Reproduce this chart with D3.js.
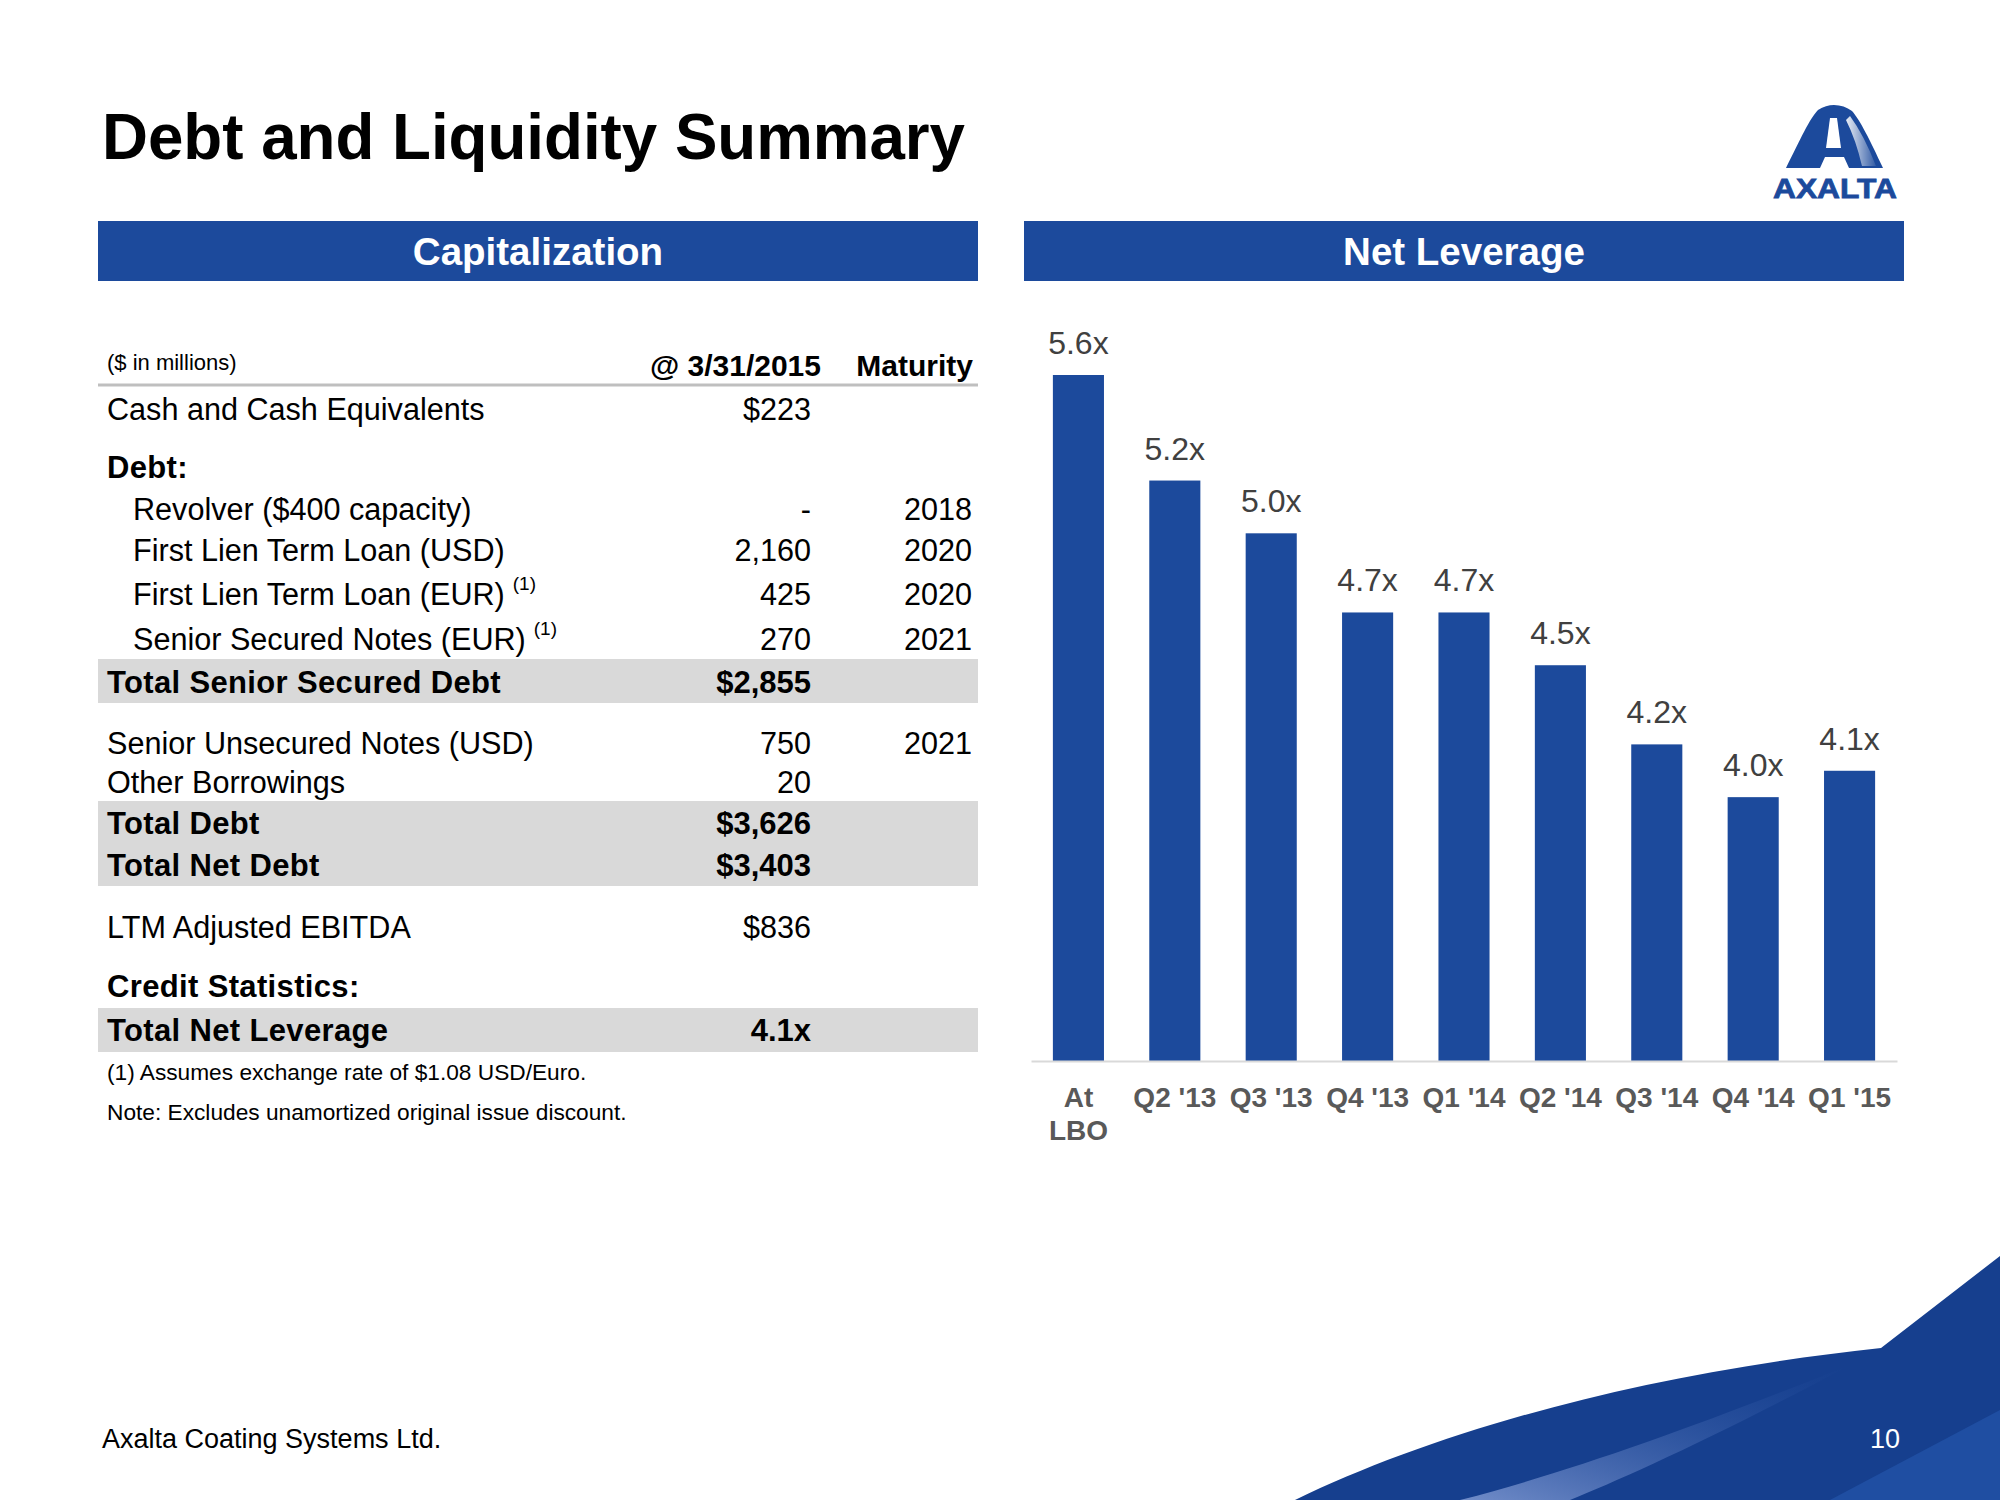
<!DOCTYPE html>
<html><head><meta charset="utf-8">
<script src="https://cdn.jsdelivr.net/npm/d3@7"></script>
<style>
body{margin:0;background:#fff}
svg{display:block}
text{font-family:"Liberation Sans",Arial,Helvetica,sans-serif}
</style>
</head><body>
<svg id="c" width="2000" height="1500"></svg>
<script>
// ---------- DATA ----------
const tickLabels = [["At","LBO"],["Q2 '13"],["Q3 '13"],["Q4 '13"],["Q1 '14"],["Q2 '14"],["Q3 '14"],["Q4 '14"],["Q1 '15"]];
const categories = tickLabels.map(l => l.join(" "));
const leverage = [5.6, 5.2, 5.0, 4.7, 4.7, 4.5, 4.2, 4.0, 4.1];

const rowLabels = ["Cash and Cash Equivalents","Debt:","Revolver ($400 capacity)","First Lien Term Loan (USD)",
  "First Lien Term Loan (EUR)","Senior Secured Notes (EUR)","Total Senior Secured Debt","Senior Unsecured Notes (USD)",
  "Other Borrowings","Total Debt","Total Net Debt","LTM Adjusted EBITDA","Credit Statistics:","Total Net Leverage"];
const rowValues = ["$223","","-","2,160","425","270","$2,855","750","20","$3,626","$3,403","$836","","4.1x"];
const rowMaturity = ["","","2018","2020","2020","2021","","2021","","","","","",""];
const rowKinds = ["plain","bold","indent","indent","indent","indent","total","plain","plain","total","total","plain","bold","total"];
const rowNotes = ["","","","","(1)","(1)","","","","","","","",""];
const columnHeads = ["@ 3/31/2015","Maturity"];
const footnotes = ["(1) Assumes exchange rate of $1.08 USD/Euro.","Note:  Excludes unamortized original issue discount."];

// ---------- DRAW ----------
const blue = "#1c4a9c";
const svg = d3.select("#c");

// Title
svg.append("text").attr("x",102).attr("y",159).attr("font-size",64).attr("font-weight","bold")
  .attr("fill","#000").attr("textLength",863).attr("lengthAdjust","spacingAndGlyphs").text("Debt and Liquidity Summary");

// Logo
const defs = svg.append("defs");
const logo = svg.append("g");
const grad = defs.append("linearGradient").attr("id","hl").attr("x1","0").attr("y1","0").attr("x2","1").attr("y2","0");
grad.append("stop").attr("offset","0").attr("stop-color","#ffffff").attr("stop-opacity",0.9);
grad.append("stop").attr("offset","1").attr("stop-color","#ffffff").attr("stop-opacity",0.1);
logo.append("path").attr("d","M1786,168 C1800,140 1810,118 1818,110 Q1826,105 1834,105 Q1844,105 1852,111 C1860,120 1870,140 1883,168 Z").attr("fill",blue);
logo.append("path").attr("d","M1850,116 Q1864,135 1876,166 L1862,166 Q1856,140 1846,120 Z").attr("fill","url(#hl)");
logo.append("path").attr("d","M1830,118 L1837,118 L1841,148 L1826,148 Z").attr("fill","#fff");
logo.append("path").attr("d","M1825,157 L1844,157 L1849,168 L1820,168 Z").attr("fill","#fff");
logo.append("text").attr("x",1835).attr("y",198).attr("text-anchor","middle").attr("font-size",28)
  .attr("font-weight","bold").attr("fill",blue).attr("textLength",124).attr("lengthAdjust","spacingAndGlyphs")
  .attr("stroke",blue).attr("stroke-width",0.8).text("AXALTA");

// Section headers
[[98,"Capitalization"],[1024,"Net Leverage"]].forEach(([x0,t]) => {
  svg.append("rect").attr("x",x0).attr("y",221).attr("width",880).attr("height",60).attr("fill",blue);
  svg.append("text").attr("x",x0+440).attr("y",265).attr("text-anchor","middle").attr("font-size",38.5)
    .attr("font-weight","bold").attr("fill","#fff").text(t);
});

// ---------- TABLE ----------
const tbl = svg.append("g");
const xLeft = 107, xIndent = 133, xVal = 811, xMat = 972;
const rowY = [420,478,520,561,605,650,693,754,793,834,876,938,997,1041];
const bands = [[659,703],[801,886],[1008,1052]];
bands.forEach(([a,b]) => tbl.append("rect").attr("x",98).attr("y",a).attr("width",880).attr("height",b-a).attr("fill","#d9d9d9"));

tbl.append("text").attr("x",xLeft).attr("y",370).attr("font-size",22).attr("fill","#000").text("($ in millions)");
tbl.append("text").attr("x",821).attr("y",376).attr("text-anchor","end").attr("font-size",30).attr("font-weight","bold").text(columnHeads[0]);
tbl.append("text").attr("x",973).attr("y",376).attr("text-anchor","end").attr("font-size",30).attr("font-weight","bold").text(columnHeads[1]);
tbl.append("line").attr("x1",98).attr("x2",978).attr("y1",385).attr("y2",385).attr("stroke","#bfbfbf").attr("stroke-width",3);

rowLabels.forEach((lab,i) => {
  const k = rowKinds[i];
  const bold = (k === "bold" || k === "total");
  const t = tbl.append("text").attr("x", k === "indent" ? xIndent : xLeft).attr("y", rowY[i])
    .attr("font-size", bold ? 31 : 30.6).attr("font-weight", bold ? "bold" : "normal")
    .attr("letter-spacing", bold ? 0.35 : 0).attr("fill","#000").text(lab);
  if (rowNotes[i]) {
    t.append("tspan").attr("dx",8).attr("dy",-15).attr("font-size",19).text(rowNotes[i]);
  }
  if (rowValues[i]) {
    tbl.append("text").attr("x",xVal).attr("y",rowY[i]).attr("text-anchor","end").attr("font-size", k === "total" ? 31 : 30.6)
      .attr("font-weight", k === "total" ? "bold" : "normal").text(rowValues[i]);
  }
  if (rowMaturity[i]) {
    tbl.append("text").attr("x",xMat).attr("y",rowY[i]).attr("text-anchor","end").attr("font-size",30.6).text(rowMaturity[i]);
  }
});
footnotes.forEach((f,i) => tbl.append("text").attr("x",xLeft).attr("y",[1080,1120][i]).attr("font-size",22.7).attr("fill","#000").text(f));

// ---------- BAR CHART ----------
const x = d3.scaleBand().domain(categories).range([1031,1897]).paddingInner(0.47).paddingOuter(0.227);
const y = d3.scaleLinear().domain([3.0, 5.6]).range([1061, 375]);

svg.append("g").selectAll("rect").data(leverage).join("rect")
  .attr("x",(d,i) => x(categories[i])).attr("y",d => y(d))
  .attr("width",x.bandwidth()).attr("height",d => y(3.0) - y(d)).attr("fill",blue);

svg.append("g").selectAll("text").data(leverage).join("text")
  .attr("x",(d,i) => x(categories[i]) + x.bandwidth()/2).attr("y",d => y(d) - 21)
  .attr("text-anchor","middle").attr("font-size",32).attr("fill","#404040")
  .text(d => d.toFixed(1) + "x");

const ax = svg.append("g").attr("transform","translate(0,1061)")
  .call(d3.axisBottom(x).tickSize(0).tickSizeOuter(0));
ax.attr("font-family",null).attr("font-size",null);
ax.select(".domain").attr("stroke","#d9d9d9").attr("stroke-width",2);
ax.selectAll(".tick text").each(function(d,i){
  const t = d3.select(this);
  t.text(null).attr("y",46).attr("dy",null).attr("font-size",28).attr("font-weight","bold").attr("fill","#595959");
  tickLabels[i].forEach((l,k) => t.append("tspan").attr("x",0).attr("dy",k ? 33 : 0).text(l));
});

// ---------- FOOTER ----------
const sw = svg.append("g");
const g2 = defs.append("linearGradient").attr("id","streak").attr("x1","0").attr("y1","1").attr("x2","1").attr("y2","0");
g2.append("stop").attr("offset","0").attr("stop-color","#8fa6dc").attr("stop-opacity",0.75);
g2.append("stop").attr("offset","1").attr("stop-color","#2a56a8").attr("stop-opacity",0.0);
sw.append("path").attr("d","M1295,1500 C1440,1430 1640,1374 1881,1348 L2000,1256 L2000,1500 Z").attr("fill","#163f8e");
sw.append("path").attr("d","M1460,1500 C1570,1472 1700,1425 1850,1365 C1720,1435 1620,1480 1570,1500 Z").attr("fill","url(#streak)");
sw.append("path").attr("d","M2000,1410 L1830,1500 L2000,1500 Z").attr("fill","#1f4ea2");

svg.append("text").attr("x",102).attr("y",1448).attr("font-size",27).attr("fill","#000").text("Axalta Coating Systems Ltd.");
svg.append("text").attr("x",1900).attr("y",1448).attr("text-anchor","end").attr("font-size",27).attr("fill","#fff").text("10");
</script>
</body></html>
